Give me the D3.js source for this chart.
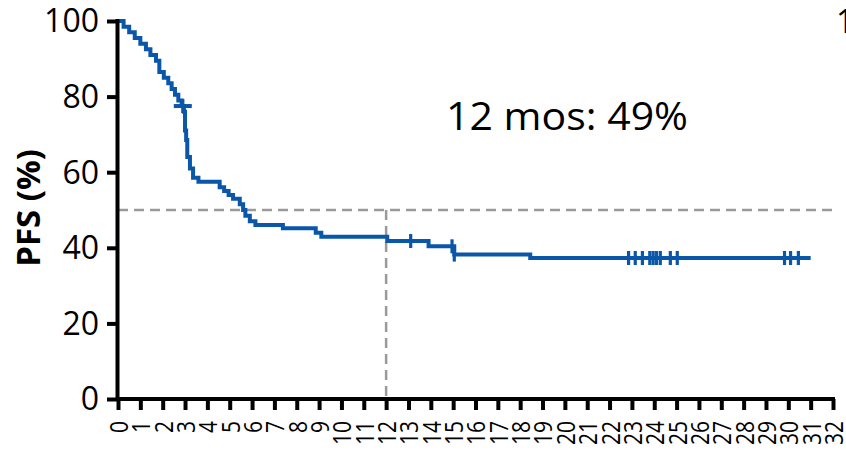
<!DOCTYPE html>
<html><head><meta charset="utf-8">
<script src="https://cdn.jsdelivr.net/npm/d3@7/dist/d3.min.js"></script>
<style>html,body{margin:0;padding:0;background:#fff;}svg{display:block;}</style>
</head><body><div id="chart"></div>
<script>
// KM step data (time in months, PFS %)
const stepTimes  = [0, 0.25, 0.5, 0.75, 1.0, 1.25, 1.45, 1.7, 1.85, 2.05, 2.25, 2.4, 2.55, 2.7, 2.85, 2.95, 3.0, 3.05, 3.1, 3.22, 3.36, 3.6, 4.55, 4.75, 4.95, 5.15, 5.45, 5.6, 5.7, 5.9, 6.15, 7.38, 8.85, 9.1, 12.05, 13.9, 15.05, 18.45];
const stepValues = [100, 98.5, 97, 95.5, 94, 92.5, 91, 89.5, 86.5, 85, 83.5, 82, 80.5, 79, 77.5, 76, 71, 68.5, 64, 61, 58.5, 57.5, 56, 55, 54, 53, 51.5, 50, 48.5, 47, 46, 45.2, 44, 42.9, 41.8, 40.4, 38.2, 37.3];
const censorTimes = [2.9, 13.1, 14.95, 15.05, 22.85, 23.15, 23.47, 23.8, 23.95, 24.1, 24.27, 24.72, 25.03, 29.83, 30.1, 30.45];
const endTime = 31.0;
const xTicks = d3.range(0, 33);
const yTicks = [0, 20, 40, 60, 80, 100];
const landmarkTime = 12, landmarkValue = 50;
const annotation = "12 mos: 49%";
const yLabel = "PFS (%)";

const W = 846, H = 455;
const svg = d3.select("#chart").append("svg").attr("width", W).attr("height", H);
const x = d3.scaleLinear().domain([0, 32]).range([118, 833]);
const y = d3.scaleLinear().domain([0, 100]).range([399, 21]);
const blue = "#0a56a8", grey = "#9a9a9a";

function survAt(t) {
  let v = stepValues[0];
  for (let i = 0; i < stepTimes.length; i++) if (stepTimes[i] <= t) v = stepValues[i];
  return v;
}

// dashed reference lines
svg.append("line").attr("x1", x(0)).attr("x2", x(32)).attr("y1", y(landmarkValue)).attr("y2", y(landmarkValue))
  .attr("stroke", grey).attr("stroke-width", 2.5).attr("stroke-dasharray", "10,6");
svg.append("line").attr("x1", x(landmarkTime)).attr("x2", x(landmarkTime)).attr("y1", y(landmarkValue)).attr("y2", y(0))
  .attr("stroke", grey).attr("stroke-width", 2.5).attr("stroke-dasharray", "10,6");

// KM curve
const pts = stepTimes.map((t, i) => [t, stepValues[i]]);
pts.push([endTime, stepValues[stepValues.length - 1]]);
const line = d3.line().x(d => x(d[0])).y(d => y(d[1])).curve(d3.curveStepAfter);
svg.append("path").datum(pts).attr("d", line).attr("fill", "none").attr("stroke", blue).attr("stroke-width", 4);

// censor marks
svg.selectAll(".cens").data(censorTimes).enter().append("line")
  .attr("x1", d => x(d)).attr("x2", d => x(d))
  .attr("y1", d => y(survAt(d)) - 7).attr("y2", d => y(survAt(d)) + 7)
  .attr("stroke", blue).attr("stroke-width", 3.2);
// first censor is a wider cross
svg.append("line").attr("x1", x(censorTimes[0]) - 9).attr("x2", x(censorTimes[0]) + 9)
  .attr("y1", y(survAt(censorTimes[0]))).attr("y2", y(survAt(censorTimes[0])))
  .attr("stroke", blue).attr("stroke-width", 4);

// axes
const yAxis = svg.append("g").attr("transform", `translate(${x(0)},0)`)
  .call(d3.axisLeft(y).tickValues(yTicks).tickSize(11).tickPadding(8));
yAxis.select(".domain").attr("stroke", "#000").attr("stroke-width", 4).attr("d", `M-0.5,${y(100)-2}V${y(0)+2}`);
yAxis.selectAll(".tick line").attr("stroke", "#000").attr("stroke-width", 4);
yAxis.selectAll(".tick text").attr("font-family", "'Open Sans', sans-serif").attr("font-size", 32).attr("fill", "#000").attr("dy", "0.34em");

const xAxis = svg.append("g").attr("transform", `translate(0,${y(0)})`)
  .call(d3.axisBottom(x).tickValues(xTicks).tickSize(11));
xAxis.select(".domain").attr("stroke", "#000").attr("stroke-width", 4).attr("d", `M${x(0)-2},0H${x(32)+2}`);
xAxis.selectAll(".tick line").attr("stroke", "#000").attr("stroke-width", 4);
xAxis.selectAll(".tick text")
  .attr("font-family", "'Open Sans', sans-serif").attr("font-size", 21).attr("fill", "#000")
  .attr("y", 0).attr("dy", "0.36em").attr("text-anchor", "end")
  .attr("transform", "translate(0,22) scale(1.25,1) rotate(-90)");

// y label
svg.append("text").attr("transform", "translate(40,208) rotate(-90)")
  .attr("text-anchor", "middle").attr("font-family", "'Open Sans', sans-serif")
  .attr("font-weight", "bold").attr("font-size", 33).attr("fill", "#000").text(yLabel);

// annotation
svg.append("text").attr("x", 446).attr("y", 130).attr("font-family", "'Open Sans', sans-serif")
  .attr("font-size", 38).attr("fill", "#000").attr("textLength", 242).attr("lengthAdjust", "spacingAndGlyphs").text(annotation);

// cut-off neighbouring label at top right
svg.append("text").attr("x", 836).attr("y", 33).attr("font-family", "'Open Sans', sans-serif")
  .attr("font-size", 32).attr("fill", "#000").text("1");
</script></body></html>
